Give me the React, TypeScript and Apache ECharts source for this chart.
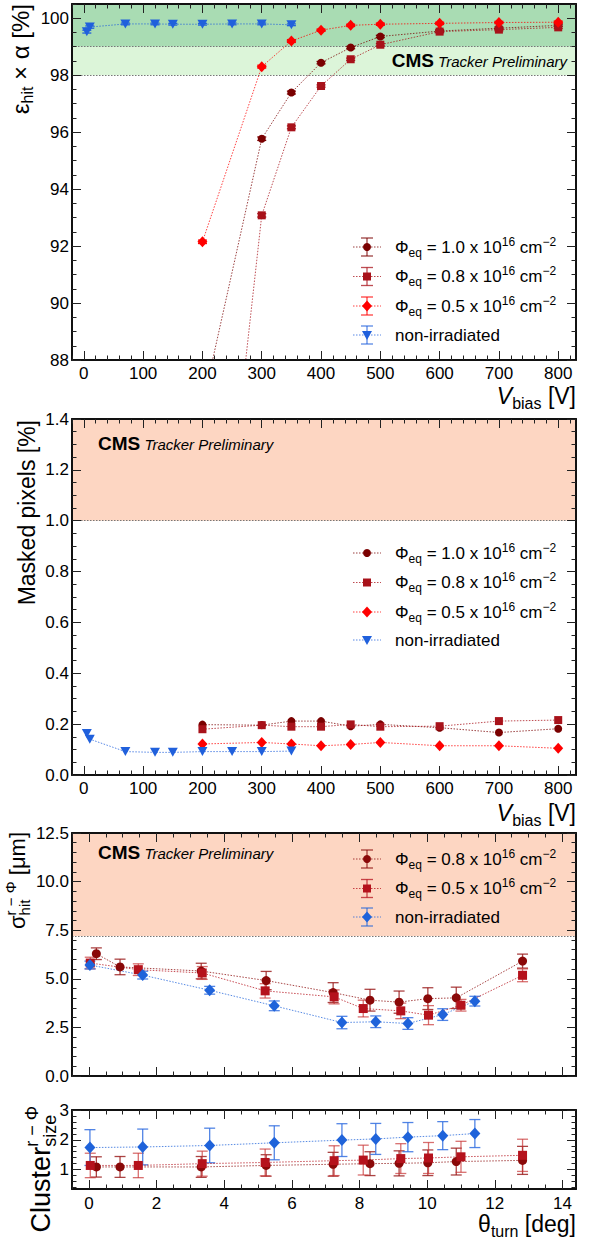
import React, { useEffect, useRef } from "react";
import * as echarts from "echarts";

const FONT = "'Liberation Sans', Arial, Helvetica, sans-serif";

// ---------- Panel 1 : efficiency x acceptance vs bias ----------
const biasIrr = [200, 300, 350, 400, 450, 500, 600, 700, 800];
const biasNonIrr = [5, 10, 70, 120, 150, 200, 250, 300, 350];
const effPhi10 = [86.4, 95.77, 97.39, 98.44, 98.97, 99.36, 99.55, 99.65, 99.75];
const effPhi08 = [74.3, 93.08, 96.17, 97.62, 98.56, 99.07, 99.53, 99.6, 99.68];
const effPhi05 = [92.15, 98.3, 99.2, 99.58, 99.75, 99.79, 99.82, 99.85, 99.86];
const effNonIrr = [99.53, 99.69, 99.8, 99.8, 99.79, 99.79, 99.8, 99.8, 99.77];
const effErrPhi10 = [0.1, 0.06, 0.05, 0.04, 0.04, 0.04, 0.04, 0.04, 0.04];
const effErrPhi08 = [0.1, 0.06, 0.05, 0.04, 0.04, 0.04, 0.04, 0.04, 0.04];
const effErrPhi05 = [0.06, 0.05, 0.05, 0.04, 0.04, 0.04, 0.04, 0.04, 0.04];
const effErrNonIrr = [0.05, 0.04, 0.03, 0.03, 0.03, 0.03, 0.03, 0.03, 0.03];
const effBandHigh = [99, 100.5];
const effBandLow = [98, 99];

// ---------- Panel 2 : masked pixels vs bias ----------
const maskPhi10 = [0.198, 0.196, 0.212, 0.212, 0.192, 0.199, 0.186, 0.167, 0.182];
const maskPhi08 = [0.18, 0.196, 0.19, 0.19, 0.199, 0.19, 0.192, 0.212, 0.216];
const maskPhi05 = [0.122, 0.128, 0.122, 0.115, 0.12, 0.128, 0.115, 0.115, 0.105];
const maskNonIrr = [0.163, 0.141, 0.092, 0.089, 0.089, 0.092, 0.092, 0.092, 0.094];
const maskBand = [1.0, 1.4];

// ---------- Panel 3 : resolution vs turn angle ----------
const thetaPhi08 = [0.22, 0.92, 3.32, 5.24, 7.22, 8.31, 9.17, 10.02, 10.86, 12.82];
const thetaPhi05 = [0.04, 1.46, 3.35, 5.21, 7.25, 8.11, 9.22, 10.04, 11.0, 12.82];
const thetaNonIrr = [0.03, 1.59, 3.57, 5.48, 7.48, 8.48, 9.43, 10.46, 11.41];
const resPhi08 = [6.29, 5.61, 5.4, 4.91, 4.29, 3.9, 3.8, 3.98, 4.02, 5.91];
const resErrPhi08 = [0.3, 0.4, 0.4, 0.47, 0.51, 0.56, 0.57, 0.56, 0.55, 0.36];
const resPhi05 = [5.81, 5.47, 5.3, 4.38, 4.07, 3.47, 3.35, 3.13, 3.64, 5.18];
const resErrPhi05 = [0.3, 0.3, 0.33, 0.37, 0.36, 0.43, 0.4, 0.49, 0.3, 0.33];
const resNonIrr = [5.71, 5.19, 4.41, 3.61, 2.75, 2.79, 2.7, 3.16, 3.85];
const resErrNonIrr = [0.2, 0.2, 0.2, 0.25, 0.32, 0.3, 0.3, 0.3, 0.25];
const resBand = [7.2, 12.5];

// ---------- Panel 4 : cluster size vs turn angle ----------
const clsPhi08 = [1.09, 1.09, 1.09, 1.14, 1.18, 1.2, 1.21, 1.23, 1.27, 1.31];
const clsErrPhi08 = [0.34, 0.35, 0.35, 0.36, 0.4, 0.4, 0.42, 0.43, 0.45, 0.47];
const clsPhi05 = [1.14, 1.14, 1.2, 1.24, 1.3, 1.32, 1.37, 1.39, 1.43, 1.48];
const clsErrPhi05 = [0.41, 0.41, 0.42, 0.45, 0.5, 0.5, 0.5, 0.52, 0.52, 0.54];
const clsNonIrr = [1.74, 1.76, 1.81, 1.9, 1.99, 2.03, 2.09, 2.14, 2.21];
const clsErrNonIrr = [0.6, 0.6, 0.58, 0.57, 0.55, 0.52, 0.49, 0.47, 0.47];

// ---------- Ticks ----------
const biasTicks = [0, 100, 200, 300, 400, 500, 600, 700, 800];
const effTicks = [88, 90, 92, 94, 96, 98, 100];
const maskTicks = [0, 0.2, 0.4, 0.6, 0.8, 1.0, 1.2, 1.4];
const thetaTicks = [0, 2, 4, 6, 8, 10, 12, 14];
const resTicks = [0, 2.5, 5, 7.5, 10, 12.5];
const clsTicks = [1, 2, 3];

// ---------- Colours ----------
const C10 = "#7a0000";
const C08 = "#a8121a";
const C05 = "#ff0000";
const CBL = "#2060dc";
const R08 = "#8a0808";
const R05 = "#b5121c";
const RBL = "#1f63da";

const GRIDS = [
  { left: 72, top: 4, width: 504, height: 356 },
  { left: 72, top: 419, width: 504, height: 356 },
  { left: 72, top: 833, width: 504, height: 243 },
  { left: 72, top: 1110, width: 504, height: 79 },
];

function steps(a: number, b: number, st: number) {
  const out: number[] = [];
  const n = Math.round((b - a) / st);
  for (let i = 0; i <= n; i++) out.push(Math.round((a + i * st) * 1000) / 1000);
  return out;
}

let _ctx: CanvasRenderingContext2D | null = null;
type Part = { t: string; s: number; dy?: number; it?: boolean; b?: boolean; stack?: boolean };
function fontOf(p: Part) {
  return `${p.it ? "italic " : ""}${p.b ? "bold " : ""}${p.s}px ${FONT}`;
}
function tw(p: Part) {
  if (!_ctx) _ctx = document.createElement("canvas").getContext("2d");
  _ctx!.font = fontOf(p);
  return _ctx!.measureText(p.t).width;
}
function rich(x: number, y: number, parts: Part[], align: "left" | "right", rotation = 0, color = "#000") {
  let cur = 0;
  let prevStart = 0;
  const placed: { p: Part; start: number }[] = [];
  for (const p of parts) {
    const w = tw(p);
    let start: number;
    if (p.stack) {
      start = prevStart;
      cur = Math.max(cur, start + w);
    } else {
      start = cur;
      prevStart = start;
      cur = start + w;
    }
    placed.push({ p, start });
  }
  const off = align === "right" ? -cur : 0;
  return {
    type: "group",
    x,
    y,
    rotation,
    silent: true,
    z: 100,
    children: placed.map(({ p, start }) => ({
      type: "text",
      x: start + off,
      y: (p.dy || 0) - 0.3465 * p.s,
      silent: true,
      z: 100,
      style: {
        text: p.t,
        fontSize: p.s,
        fontFamily: FONT,
        fontStyle: p.it ? "italic" : "normal",
        fontWeight: p.b ? "bold" : "normal",
        fill: color,
        align: "left",
        verticalAlign: "middle",
      },
    })),
  };
}

function axesFor(
  gi: number,
  x: { min: number; max: number; major: number[]; minor: number[]; labels: boolean; margin: number; fmt: (v: number) => string },
  y: { min: number; max: number; major: number[]; minor: number[]; fmt: (v: number) => string }
) {
  const line = { show: true, onZero: false, lineStyle: { color: "#111", width: 2 } };
  const noLine = { show: false, onZero: false };
  const tick = (vals: number[], len: number) => ({
    show: true,
    inside: true,
    length: len,
    customValues: vals,
    lineStyle: { color: "#222", width: 1 },
  });
  const base = (min: number, max: number) => ({
    type: "value",
    min,
    max,
    gridIndex: gi,
    z: 10,
    silent: true,
    splitLine: { show: false },
    axisPointer: { show: false },
  });
  const lab = (vals: number[], margin: number, fmt: (v: number) => string) => ({
    show: true,
    customValues: vals,
    margin,
    fontSize: 17,
    fontFamily: FONT,
    color: "#000",
    formatter: fmt,
  });
  const xs = [
    { ...base(x.min, x.max), position: "bottom", axisLine: line, axisTick: tick(x.major, 9), axisLabel: x.labels ? lab(x.major, x.margin, x.fmt) : { show: false } },
    { ...base(x.min, x.max), position: "bottom", axisLine: noLine, axisTick: tick(x.minor, 4.5), axisLabel: { show: false } },
    { ...base(x.min, x.max), position: "top", axisLine: line, axisTick: tick(x.major, 9), axisLabel: { show: false } },
    { ...base(x.min, x.max), position: "top", axisLine: noLine, axisTick: tick(x.minor, 4.5), axisLabel: { show: false } },
  ];
  const ys = [
    { ...base(y.min, y.max), position: "left", axisLine: line, axisTick: tick(y.major, 9), axisLabel: lab(y.major, 3, y.fmt) },
    { ...base(y.min, y.max), position: "left", axisLine: noLine, axisTick: tick(y.minor, 4.5), axisLabel: { show: false } },
    { ...base(y.min, y.max), position: "right", axisLine: line, axisTick: tick(y.major, 9), axisLabel: { show: false } },
    { ...base(y.min, y.max), position: "right", axisLine: noLine, axisTick: tick(y.minor, 4.5), axisLabel: { show: false } },
  ];
  return { xs, ys };
}

function pts(xs: number[], ys: number[]) {
  return xs.map((x, i) => [x, ys[i]]);
}
function errPts(xs: number[], ys: number[], es: number[]) {
  return xs.map((x, i) => [x, ys[i] - es[i], ys[i] + es[i]]);
}

function lineSeries(name: string, gi: number, data: number[][], symbol: string, size: any, color: string, rotate = 0, extra: any = {}) {
  return {
    type: "line",
    name,
    xAxisIndex: gi * 4,
    yAxisIndex: gi * 4,
    data,
    symbol,
    symbolSize: size,
    symbolRotate: rotate,
    showAllSymbol: true,
    clip: true,
    z: 6,
    itemStyle: { color, opacity: 1 },
    lineStyle: { color, width: 1, type: [1.5, 1.5], opacity: 0.75 },
    emphasis: { disabled: true },
    ...extra,
  };
}

function errSeries(gi: number, data: number[][], color: string, cap: number) {
  return {
    type: "custom",
    xAxisIndex: gi * 4,
    yAxisIndex: gi * 4,
    data,
    clip: true,
    z: 5,
    silent: true,
    renderItem: (_p: any, api: any) => {
      const x = api.value(0);
      const a = api.coord([x, api.value(1)]);
      const b = api.coord([x, api.value(2)]);
      const st = { stroke: color, lineWidth: 1.3 };
      return {
        type: "group",
        children: [
          { type: "line", shape: { x1: a[0], y1: a[1], x2: b[0], y2: b[1] }, style: st },
          { type: "line", shape: { x1: a[0] - cap, y1: a[1], x2: a[0] + cap, y2: a[1] }, style: st },
          { type: "line", shape: { x1: b[0] - cap, y1: b[1], x2: b[0] + cap, y2: b[1] }, style: st },
        ],
      };
    },
  };
}

function bandSeries(gi: number, bands: { range: number[]; color: string }[], lines: number[]) {
  return {
    type: "line",
    xAxisIndex: gi * 4,
    yAxisIndex: gi * 4,
    data: [],
    z: 1,
    silent: true,
    markArea: {
      silent: true,
      data: bands.map((b) => [{ yAxis: b.range[0], itemStyle: { color: b.color } }, { yAxis: b.range[1] }]),
    },
    markLine: {
      silent: true,
      symbol: ["none", "none"],
      label: { show: false },
      lineStyle: { color: "#777", width: 1.2, type: [1.5, 1.5] },
      data: lines.map((v) => ({ yAxis: v })),
    },
  };
}

function markerShape(kind: string, cx: number, cy: number, color: string) {
  if (kind === "circle") return { type: "circle", shape: { cx, cy, r: 4 }, style: { fill: color }, z: 101 };
  if (kind === "rect") return { type: "rect", shape: { x: cx - 4, y: cy - 4, width: 8, height: 8 }, style: { fill: color }, z: 101 };
  if (kind === "diamond")
    return { type: "polygon", shape: { points: [[cx, cy - 5.5], [cx + 5, cy], [cx, cy + 5.5], [cx - 5, cy]] }, style: { fill: color }, z: 101 };
  return { type: "polygon", shape: { points: [[cx - 5, cy - 4], [cx + 5, cy - 4], [cx, cy + 5]] }, style: { fill: color }, z: 101 };
}

function phiLabel(v: string): Part[] {
  return [
    { t: "Φ", s: 17 },
    { t: "eq", s: 12, dy: 4 },
    { t: ` = ${v} x 10`, s: 17 },
    { t: "16", s: 12, dy: -7 },
    { t: " cm", s: 17 },
    { t: "−2", s: 12, dy: -7 },
  ];
}

function legendItems(entries: { label: Part[]; kind: string; color: string }[], rows: number[], withErr: boolean) {
  const out: any[] = [];
  const mx = 367;
  entries.forEach((e, i) => {
    const y = rows[i];
    out.push({ type: "line", shape: { x1: 353, y1: y, x2: 381, y2: y }, style: { stroke: e.color, lineWidth: 1, lineDash: [1.5, 1.5], opacity: 0.75 }, z: 100, silent: true });
    if (withErr) {
      const st = { stroke: e.color, lineWidth: 1.3, opacity: 0.75 };
      out.push({ type: "line", shape: { x1: mx, y1: y - 9, x2: mx, y2: y + 9 }, style: st, z: 100, silent: true });
      out.push({ type: "line", shape: { x1: mx - 6, y1: y - 9, x2: mx + 6, y2: y - 9 }, style: st, z: 100, silent: true });
      out.push({ type: "line", shape: { x1: mx - 6, y1: y + 9, x2: mx + 6, y2: y + 9 }, style: st, z: 100, silent: true });
    }
    out.push(markerShape(e.kind, mx, y, e.color));
    out.push(rich(395, y + 6, e.label, "left"));
  });
  return out;
}

function cmsLabel(x: number, y: number, align: "left" | "right") {
  return rich(x, y, [
    { t: "CMS", s: 19, b: true },
    { t: " ", s: 15 },
    { t: "Tracker Preliminary", s: 15, it: true },
  ], align);
}

function buildOption() {
  const f0 = (v: number) => String(v);
  const f1 = (v: number) => v.toFixed(1);
  const a1 = axesFor(0, { min: -20, max: 830, major: biasTicks, minor: steps(-20, 820, 20), labels: true, margin: 5, fmt: f0 }, { min: 88, max: 100.5, major: effTicks, minor: steps(88, 100.5, 0.5), fmt: f0 });
  const a2 = axesFor(1, { min: -20, max: 830, major: biasTicks, minor: steps(-20, 820, 20), labels: true, margin: 5, fmt: f0 }, { min: 0, max: 1.4, major: maskTicks, minor: steps(0, 1.4, 0.05), fmt: f1 });
  const a3 = axesFor(2, { min: -0.5, max: 14.4, major: thetaTicks, minor: steps(-0.5, 14, 0.5), labels: false, margin: 5, fmt: f0 }, { min: 0, max: 12.5, major: resTicks, minor: steps(0, 12.5, 0.5), fmt: f1 });
  const a4 = axesFor(3, { min: -0.5, max: 14.4, major: thetaTicks, minor: steps(-0.5, 14, 0.5), labels: true, margin: 6, fmt: f0 }, { min: 0.35, max: 3, major: clsTicks, minor: steps(0.4, 3, 0.2), fmt: f0 });

  const series: any[] = [
    // panel 1
    bandSeries(0, [{ range: effBandHigh, color: "#a9dcb3" }, { range: effBandLow, color: "#dcf5d9" }], [effBandHigh[0], effBandLow[0]]),
    errSeries(0, errPts(biasIrr, effPhi10, effErrPhi10), C10, 4.5),
    errSeries(0, errPts(biasIrr, effPhi08, effErrPhi08), C08, 4.5),
    errSeries(0, errPts(biasIrr, effPhi05, effErrPhi05), C05, 4.5),
    errSeries(0, errPts(biasNonIrr, effNonIrr, effErrNonIrr), CBL, 4.5),
    lineSeries("Φeq = 1.0 x 10^16 cm^-2", 0, pts(biasIrr, effPhi10), "circle", 8, C10),
    lineSeries("Φeq = 0.8 x 10^16 cm^-2", 0, pts(biasIrr, effPhi08), "rect", 8, C08),
    lineSeries("Φeq = 0.5 x 10^16 cm^-2", 0, pts(biasIrr, effPhi05), "diamond", [10, 11], C05),
    lineSeries("non-irradiated", 0, pts(biasNonIrr, effNonIrr), "triangle", [10, 9], CBL, 180),
    // panel 2
    bandSeries(1, [{ range: maskBand, color: "#fdd6c2" }], [maskBand[0]]),
    lineSeries("Φeq = 1.0 x 10^16 cm^-2", 1, pts(biasIrr, maskPhi10), "circle", 8, C10),
    lineSeries("Φeq = 0.8 x 10^16 cm^-2", 1, pts(biasIrr, maskPhi08), "rect", 8, C08),
    lineSeries("Φeq = 0.5 x 10^16 cm^-2", 1, pts(biasIrr, maskPhi05), "diamond", [10, 11], C05),
    lineSeries("non-irradiated", 1, pts(biasNonIrr, maskNonIrr), "triangle", [10, 9], CBL, 180),
    // panel 3
    bandSeries(2, [{ range: resBand, color: "#fdd6c2" }], [resBand[0]]),
    errSeries(2, errPts(thetaPhi08, resPhi08, resErrPhi08), "rgba(150,20,20,0.8)", 5.5),
    errSeries(2, errPts(thetaPhi05, resPhi05, resErrPhi05), "rgba(200,50,50,0.7)", 5.5),
    errSeries(2, errPts(thetaNonIrr, resNonIrr, resErrNonIrr), "rgba(50,110,225,0.85)", 5.5),
    lineSeries("Φeq = 0.8 x 10^16 cm^-2", 2, pts(thetaPhi08, resPhi08), "circle", 9, R08),
    lineSeries("Φeq = 0.5 x 10^16 cm^-2", 2, pts(thetaPhi05, resPhi05), "rect", 9, R05),
    lineSeries("non-irradiated", 2, pts(thetaNonIrr, resNonIrr), "diamond", [11, 12], RBL),
    // panel 4
    errSeries(3, errPts(thetaPhi08, clsPhi08, clsErrPhi08), "rgba(150,20,20,0.8)", 5.5),
    errSeries(3, errPts(thetaPhi05, clsPhi05, clsErrPhi05), "rgba(200,50,50,0.7)", 5.5),
    errSeries(3, errPts(thetaNonIrr, clsNonIrr, clsErrNonIrr), "rgba(50,110,225,0.85)", 5.5),
    lineSeries("Φeq = 0.8 x 10^16 cm^-2", 3, pts(thetaPhi08, clsPhi08), "circle", 9, R08),
    lineSeries("Φeq = 0.5 x 10^16 cm^-2", 3, pts(thetaPhi05, clsPhi05), "rect", 9, R05),
    lineSeries("non-irradiated", 3, pts(thetaNonIrr, clsNonIrr), "diamond", [11, 12], RBL),
  ];

  const entries1 = [
    { label: phiLabel("1.0"), kind: "circle", color: C10 },
    { label: phiLabel("0.8"), kind: "rect", color: C08 },
    { label: phiLabel("0.5"), kind: "diamond", color: C05 },
    { label: [{ t: "non-irradiated", s: 17 }], kind: "triangle", color: CBL },
  ];
  const entries3 = [
    { label: phiLabel("0.8"), kind: "circle", color: R08 },
    { label: phiLabel("0.5"), kind: "rect", color: R05 },
    { label: [{ t: "non-irradiated", s: 17 }], kind: "diamond", color: RBL },
  ];

  const R = Math.PI / 2;
  const graphic: any[] = [
    // y titles
    rich(28.5, 4, [{ t: "ε", s: 24 }, { t: "hit", s: 16, dy: 5 }, { t: " × α [%]", s: 24 }], "right", R),
    rich(35, 420, [{ t: "Masked pixels [%]", s: 23 }], "right", R),
    rich(25, 832, [{ t: "σ", s: 22 }, { t: "r − Φ", s: 15, dy: -9 }, { t: "hit", s: 15, dy: 5, stack: true }, { t: " [μm]", s: 22 }], "right", R),
    rich(50, 1106, [{ t: "Cluster", s: 27 }, { t: "r − Φ", s: 18, dy: -12 }, { t: "size", s: 18, dy: 6, stack: true }], "right", R),
    // x titles
    rich(576, 404, [{ t: "V", s: 23, it: true }, { t: "bias", s: 16, dy: 5 }, { t: " [V]", s: 23 }], "right"),
    rich(576, 821, [{ t: "V", s: 23, it: true }, { t: "bias", s: 16, dy: 5 }, { t: " [V]", s: 23 }], "right"),
    rich(576, 1232, [{ t: "θ", s: 23 }, { t: "turn", s: 16, dy: 5 }, { t: " [deg]", s: 23 }], "right"),
    // CMS labels
    cmsLabel(567, 67, "right"),
    cmsLabel(98, 450, "left"),
    cmsLabel(98, 859, "left"),
    // legends
    ...legendItems(entries1, [247, 276.5, 306, 335], true),
    ...legendItems(entries1, [553, 582.5, 612, 640], false),
    ...legendItems(entries3, [859, 888.5, 917], true),
  ];

  return {
    animation: false,
    backgroundColor: "#fff",
    grid: GRIDS.map((g) => ({ ...g, containLabel: false, outerBoundsMode: "none" })),
    xAxis: [...a1.xs, ...a2.xs, ...a3.xs, ...a4.xs],
    yAxis: [...a1.ys, ...a2.ys, ...a3.ys, ...a4.ys],
    series,
    graphic,
  };
}

export default function App() {
  const ref = useRef<HTMLDivElement>(null);
  useEffect(() => {
    const chart = echarts.init(ref.current!, null, { renderer: "svg" });
    chart.setOption(buildOption() as any);
    return () => chart.dispose();
  }, []);
  return <div ref={ref} style={{ position: "absolute", left: 0, top: 0, width: 601, height: 1239, background: "#fff" }} />;
}
